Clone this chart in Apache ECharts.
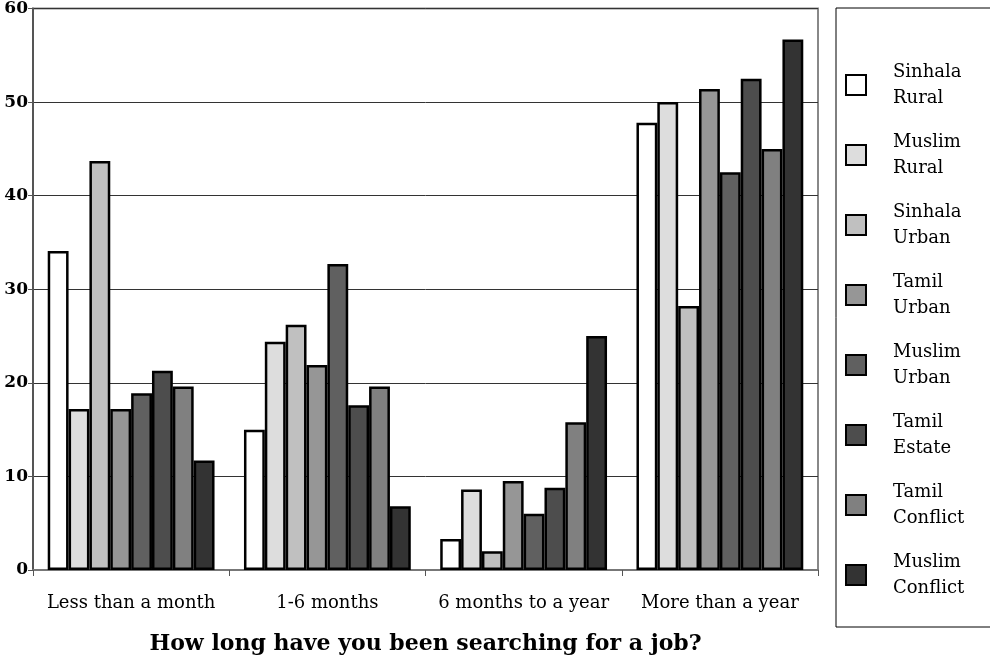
<!DOCTYPE html>
<html>
<head>
<meta charset="utf-8">
<script src="https://cdn.jsdelivr.net/npm/echarts@6/dist/echarts.min.js"></script>
<style>html,body{margin:0;padding:0;background:#fff}#c{width:990px;height:662px}</style>
</head>
<body>
<div id="c"></div>
<script>
var categories = ['Less than a month', '1-6 months', '6 months to a year', 'More than a year'];
var seriesNames = ['Sinhala\nRural', 'Muslim\nRural', 'Sinhala\nUrban', 'Tamil\nUrban', 'Muslim\nUrban', 'Tamil\nEstate', 'Tamil\nConflict', 'Muslim\nConflict'];
var sinhalaRural = [34.1, 15.0, 3.3, 47.8];
var muslimRural = [17.2, 24.4, 8.6, 50.0];
var sinhalaUrban = [43.7, 26.2, 2.0, 28.2];
var tamilUrban = [17.2, 21.9, 9.5, 51.4];
var muslimUrban = [18.9, 32.7, 6.0, 42.5];
var tamilEstate = [21.3, 17.6, 8.8, 52.5];
var tamilConflict = [19.6, 19.6, 15.8, 45.0];
var muslimConflict = [11.7, 6.8, 25.0, 56.7];
var yTicks = [0, 10, 20, 30, 40, 50, 60];
var colors = ['#ffffff', '#dddddd', '#c0c0c0', '#969696', '#606060', '#4d4d4d', '#808080', '#333333'];

var values = [sinhalaRural, muslimRural, sinhalaUrban, tamilUrban, muslimUrban, tamilEstate, tamilConflict, muslimConflict];
var font = 'DejaVu Serif';

var chart = echarts.init(document.getElementById('c'), null, {renderer: 'canvas'});
chart.setOption({
  animation: false,
  backgroundColor: '#fff',
  grid: {left: 33, right: 172, top: 4, bottom: 92, show: true, borderColor: '#888', borderWidth: 2, backgroundColor: 'transparent'},
  legend: {
    orient: 'vertical',
    left: 836, top: 8,
    padding: [51, 30, 26, 9],
    itemWidth: 20, itemHeight: 20,
    itemGap: 18,
    icon: 'rect',
    borderColor: '#000', borderWidth: 1,
    textStyle: {fontFamily: font, fontSize: 18, color: '#000', lineHeight: 26, padding: [0, 0, 0, 22]},
    data: seriesNames
  },
  xAxis: {
    type: 'category',
    data: categories,
    name: 'How long have you been searching for a job?',
    nameLocation: 'middle',
    nameGap: 63,
    nameTextStyle: {fontFamily: font, fontSize: 22, fontWeight: 'bold', color: '#000'},
    axisLine: {lineStyle: {color: '#777', width: 2}},
    axisTick: {show: true, length: 6, lineStyle: {color: '#555'}},
    axisLabel: {interval: 0, fontFamily: font, fontSize: 18, color: '#000', margin: 24},
    splitLine: {show: false}
  },
  yAxis: {
    type: 'value',
    min: 0, max: 60, interval: 10,
    axisLine: {show: true, lineStyle: {color: '#555', width: 2}},
    axisTick: {show: true, length: 5, lineStyle: {color: '#555'}},
    axisLabel: {fontFamily: font, fontSize: 17, fontWeight: 'bold', color: '#000', margin: 5,
      formatter: function (v) { return yTicks.indexOf(v) >= 0 ? String(v) : ''; }},
    splitLine: {show: true, lineStyle: {color: '#333', width: 1}}
  },
  series: values.map(function (d, i) {
    return {
      name: seriesNames[i],
      type: 'bar',
      data: d,
      barGap: '0%',
      barCategoryGap: '15%',
      itemStyle: {color: colors[i], borderColor: '#000', borderWidth: 2.5}
    };
  })
});
</script>
</body>
</html>
